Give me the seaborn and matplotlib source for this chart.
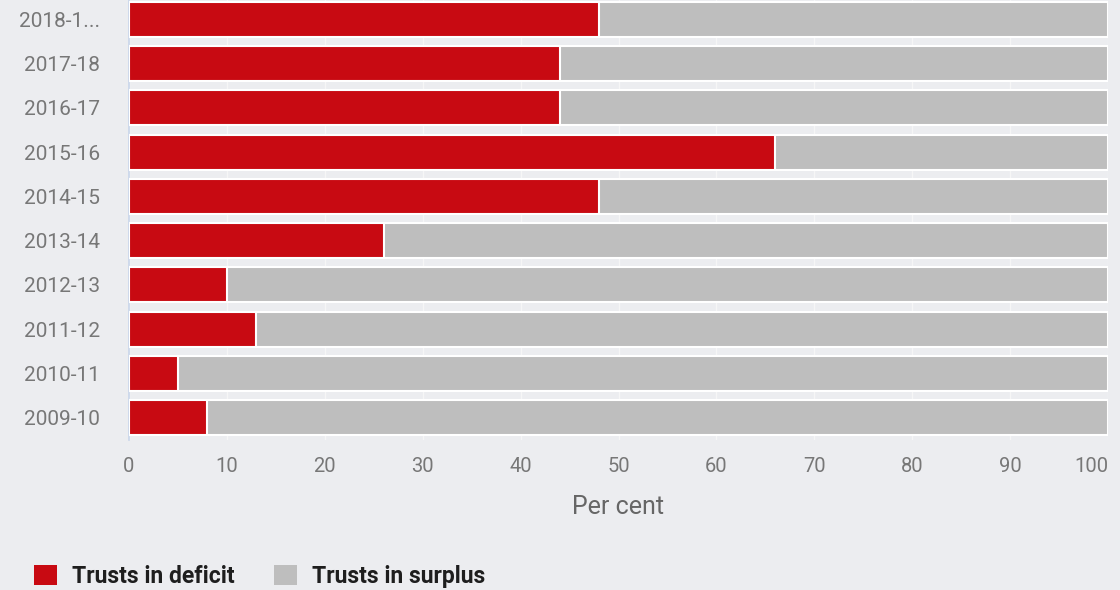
import matplotlib
matplotlib.use("Agg")
import matplotlib.pyplot as plt
import seaborn as sns
import pandas as pd
from matplotlib.patches import Patch
from matplotlib.ticker import FixedLocator

years = ["2018-1...", "2017-18", "2016-17", "2015-16", "2014-15",
         "2013-14", "2012-13", "2011-12", "2010-11", "2009-10"]
deficit = [48, 44, 44, 66, 48, 26, 10, 13, 5, 8]
surplus = [52, 56, 56, 34, 52, 74, 90, 87, 95, 92]
xticks = [0, 10, 20, 30, 40, 50, 60, 70, 80, 90, 100]

RED = "#C80A12"
GREY = "#BEBEBE"
BG = "#ECEDF0"
TXT = "#777777"

sns.set_theme(style="white")
plt.rcParams["font.family"] = ["Roboto", "DejaVu Sans"]

df = pd.DataFrame({"year": years, "deficit": deficit, "surplus": surplus})
df["total"] = df["deficit"] + df["surplus"]

fig = plt.figure(figsize=(11.2, 5.9), dpi=100, facecolor=BG)
ax = fig.add_axes([129 / 1120, 1 - 440 / 590, (1108 - 129) / 1120, 443 / 590])
ax.set_facecolor(BG)

sns.barplot(data=df, y="year", x="total", order=years, color=GREY,
            orient="h", width=0.79, edgecolor="white", linewidth=1.5,
            saturation=1, ax=ax, zorder=3)
sns.barplot(data=df, y="year", x="deficit", order=years, color=RED,
            orient="h", width=0.79, edgecolor="white", linewidth=1.5,
            saturation=1, ax=ax, zorder=4)

ax.set_xlim(0, 100)
ax.set_ylim(len(years) - 0.5, -0.5)
ax.set_xticks(xticks)
ax.set_xticklabels([str(t) for t in xticks], fontsize=14.5, color=TXT)
ax.get_xticklabels()[-1].set_ha("right")
ax.tick_params(axis="x", length=0, pad=12)
ax.tick_params(axis="y", which="major", length=0, pad=21, labelsize=15,
               labelcolor=TXT)
ax.yaxis.set_minor_locator(FixedLocator([i + 0.5 for i in range(len(years))]))
ax.tick_params(axis="y", which="minor", length=16, width=1.2, color="#C9D6EA")
ax.grid(axis="x", color="#F6F6F6", linewidth=1, zorder=0)
ax.set_axisbelow(True)

for s in ["top", "right", "bottom"]:
    ax.spines[s].set_visible(False)
ax.spines["left"].set_color("#C9D6EA")
ax.spines["left"].set_linewidth(1.2)

ax.set_xlabel("Per cent", fontsize=18, color="#666666", labelpad=14)
ax.set_ylabel("")

handles = [Patch(facecolor=RED, edgecolor="none", label="Trusts in deficit"),
           Patch(facecolor=GREY, edgecolor="none", label="Trusts in surplus")]
fig.legend(handles=handles, loc="lower left", bbox_to_anchor=(32 / 1120, 0.0),
           ncol=2, frameon=False, prop={"weight": "bold", "size": 16.5},
           handlelength=1.0, handleheight=1.0, columnspacing=1.7,
           handletextpad=0.65, borderpad=0.1, borderaxespad=0,
           labelcolor="#1E1E1E")

fig.savefig("out.png", dpi=100, facecolor=BG)
